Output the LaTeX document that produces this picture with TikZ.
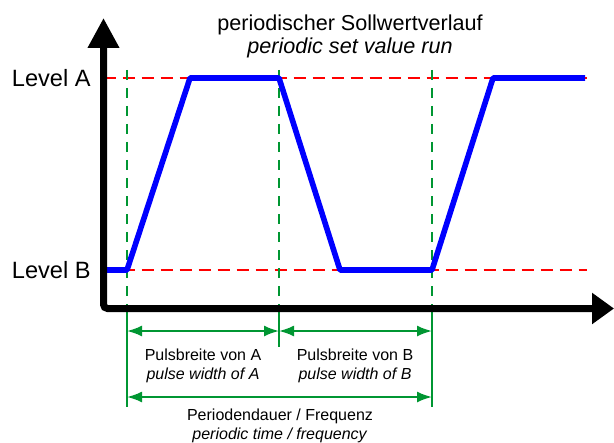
\documentclass[tikz,border=0pt]{standalone}
\usepackage{fontspec}
\setmainfont{Liberation Sans}
\usepackage{xcolor}
\usetikzlibrary{arrows.meta,positioning}

\definecolor{dimgreen}{RGB}{0,150,50}

\begin{document}
\begin{tikzpicture}[
    x=0.5pt, y=-0.5pt,
    axis/.style={draw, line width=3.5pt, rounded corners=2pt, {Triangle[width=15pt,length=15pt]}-{Triangle[width=15pt,length=11pt]}},
    level/.style={draw=red, line width=0.75pt, dash pattern=on 6pt off 3.5pt},
    guide/.style={draw=dimgreen, line width=0.75pt, dash pattern=on 5pt off 4pt},
    ext/.style={draw=dimgreen, line width=0.9pt},
    run/.style={draw=blue, line width=2.8pt, line join=round},
    dim/.style={draw=dimgreen, line width=1pt, {Latex[length=7.5pt,width=5.5pt]}-{Latex[length=7.5pt,width=5.5pt]}},
    lbl/.style={font=\fontsize{11.8}{13}\selectfont, inner sep=0pt},
    note/.style={font=\fontsize{8}{9.5}\selectfont, align=center, inner sep=0pt}
]
\useasboundingbox (0,0) rectangle (614,443);

% Axes
\coordinate (origin) at (103.5,308.5);
\coordinate (ytip) at (103.5,18);
\coordinate (xtip) at (614,308.5);

% Levels
\node [lbl, anchor=east] (levA) at (91,78) {Level A};
\node [lbl, anchor=east] (levB) at (91,270) {Level B};
\coordinate (endA) at (587,78);
\coordinate (endB) at (587,270);
\coordinate (startA) at (103.5,78);
\coordinate (startB) at (103.5,270);
\path [level] (startA) -- (endA);
\path [level] (startB) -- (endB);

% Pulse marks
\foreach \name/\xx/\lo in {m1/127/407, m2/279/347, m3/432/407} {
    \coordinate (\name top) at (\xx,70);
    \coordinate (\name ax) at (\xx,308.5);
    \coordinate (\name low) at (\xx,\lo);
    \path [guide] (\name top) -- (\name ax);
    \path [ext] (\name ax) -- (\name low);
}

% Set value run
\coordinate (p0) at (104,270);
\coordinate (p1) at (127,270);
\coordinate (p2) at (190,78);
\coordinate (p3) at (279,78);
\coordinate (p4) at (340,270);
\coordinate (p5) at (432,270);
\coordinate (p6) at (493,78);
\coordinate (p7) at (585,78);
\path [run] (p0) -- (p1) -- (p2) -- (p3) -- (p4) -- (p5) -- (p6) -- (p7);

\path [axis] (ytip) -- (origin) -- (xtip);

% Title
\node [note, font=\fontsize{10.8}{11.5}\selectfont] (title) at (350,36.5) {periodischer Sollwertverlauf\\ \textit{periodic set value run}};

% Dimensions
\coordinate (dA1) at (127,331);
\coordinate (dA2) at (279,331);
\coordinate (dB2) at (432,331);
\coordinate (dP1) at (127,397);
\coordinate (dP2) at (432,397);
\path [dim] (dA1) -- (dA2);
\path [dim] (dA2) -- (dB2);
\path [dim] (dP1) -- (dP2);

\node [note] (widthA) at (203,365.5) {Pulsbreite von A\\ \textit{pulse width of A}};
\node [note] (widthB) at (355,365.5) {Pulsbreite von B\\ \textit{pulse width of B}};
\node [note] (period) at (280,426) {Periodendauer / Frequenz\\ \textit{periodic time / frequency}};
\end{tikzpicture}
\end{document}
